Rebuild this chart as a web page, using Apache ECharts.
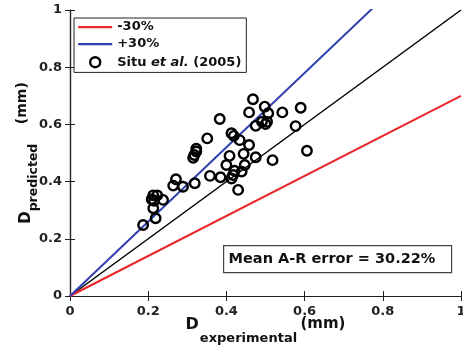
<!DOCTYPE html>
<html>
<head>
<meta charset="utf-8">
<script src="https://cdn.jsdelivr.net/npm/echarts@6/dist/echarts.min.js"></script>
<style>
  html, body { margin: 0; padding: 0; background: #fff; }
  #chart { width: 463px; height: 348px; }
</style>
</head>
<body>
<div id="chart"></div>
<script>
// measured points (Situ et al. 2005)
const expX = [0.468, 0.498, 0.458, 0.507, 0.543, 0.590, 0.383, 0.475, 0.491, 0.504,
  0.500, 0.577, 0.413, 0.419, 0.434, 0.458, 0.351, 0.323, 0.323, 0.318,
  0.315, 0.408, 0.444, 0.475, 0.518, 0.606, 0.400, 0.447, 0.421, 0.417,
  0.439, 0.358, 0.385, 0.413, 0.430, 0.319, 0.289, 0.271, 0.264, 0.238,
  0.213, 0.223, 0.209, 0.215, 0.213, 0.219, 0.187]
const predY = [0.688, 0.662, 0.642, 0.639, 0.642, 0.658, 0.619, 0.595, 0.609, 0.609,
  0.601, 0.594, 0.569, 0.560, 0.545, 0.528, 0.551, 0.515, 0.505, 0.493,
  0.483, 0.490, 0.497, 0.485, 0.475, 0.508, 0.458, 0.458, 0.438, 0.423,
  0.435, 0.420, 0.415, 0.411, 0.371, 0.394, 0.382, 0.408, 0.386, 0.336,
  0.352, 0.352, 0.338, 0.333, 0.307, 0.272, 0.248]

// reference lines y = k * x
const lineX = [0, 1]
const lowFactor = 0.7
const highFactor = 1.3
const legendNames = ['-30%', '+30%', 'Situ et al. (2005)']
const errorText = 'Mean A-R error = 30.22%'

const font = 'DejaVu Sans'
const chart = echarts.init(document.getElementById('chart'))

const makeLine = (k) => lineX.map(x => [x, k * x])
const points = expX.map((x, i) => [x, predY[i]])

// 标题样式 (subscript)
const xTitleRich = {
  d: { fontFamily: font, fontWeight: 'bold', fontSize: 16, color: '#111', lineHeight: 18, verticalAlign: 'top' },
  sub: { fontFamily: font, fontWeight: 'bold', fontSize: 13, color: '#111', lineHeight: 14, padding: [15, 0, 0, 1], verticalAlign: 'top' },
  u: { fontFamily: font, fontWeight: 'bold', fontSize: 15, color: '#111', lineHeight: 17, verticalAlign: 'top' }
}
const yTitleRich = {
  d: { fontFamily: font, fontWeight: 'bold', fontSize: 15, color: '#111', lineHeight: 18, padding: [4, 0, 0, 0], verticalAlign: 'top' },
  sub: { fontFamily: font, fontWeight: 'bold', fontSize: 12.5, color: '#111', lineHeight: 14, padding: [12, 0, 0, 0], verticalAlign: 'top' },
  u: { fontFamily: font, fontWeight: 'bold', fontSize: 14, color: '#111', lineHeight: 14, verticalAlign: 'top' }
}

const baseAxis = {
  type: 'value',
  min: 0,
  max: 1,
  interval: 0.2,
  axisLine: { show: true, lineStyle: { color: '#222', width: 1.2 } },
  axisTick: { show: true, inside: true, length: 5, lineStyle: { color: '#222', width: 1 } },
  splitLine: { show: false }
}
const axisLabel = { color: '#222', fontFamily: font, fontWeight: 'bold', fontSize: 13 }

const option = {
  animation: false,
  backgroundColor: '#fff',
  grid: { left: 70, right: 2, top: 10, bottom: 52, containLabel: false, outerBoundsMode: 'none' },
  xAxis: [
    Object.assign({}, baseAxis, {
      position: 'bottom',
      axisLabel: Object.assign({ margin: 9, formatter: v => String(v) }, axisLabel),
      name: '{d|D}{sub|experimental} {u|(mm)}',
      nameLocation: 'middle',
      nameGap: 21,
      nameMoveOverlap: false,
      nameTextStyle: { rich: xTitleRich }
    }),
    Object.assign({}, baseAxis, { position: 'top', axisLabel: { show: false } })
  ],
  yAxis: [
    Object.assign({}, baseAxis, {
      position: 'left',
      axisLabel: Object.assign({ margin: 8, formatter: v => String(v) }, axisLabel),
      name: '{d|D}{sub|predicted}{u|    (mm)}',
      nameLocation: 'middle',
      nameRotate: 90,
      nameGap: 37,
      nameMoveOverlap: false,
      nameTextStyle: { rich: yTitleRich }
    }),
    Object.assign({}, baseAxis, { position: 'right', axisLabel: { show: false } })
  ],
  legend: {
    data: [
      { name: legendNames[0], icon: 'path://M0,0 M34,14 M0,6 L34,6 L34,8.2 L0,8.2 Z' },
      { name: legendNames[1], icon: 'path://M0,0 M34,14 M0,6 L34,6 L34,8.2 L0,8.2 Z' },
      {
        name: legendNames[2],
        icon: 'path://M0,0 M34,14 M12,7 A5,5 0 1,0 22,7 A5,5 0 1,0 12,7 Z',
        itemStyle: { color: 'rgba(0,0,0,0)', borderColor: '#000', borderWidth: 2.4, opacity: 1 }
      }
    ],
    orient: 'vertical',
    left: 74,
    top: 18,
    itemWidth: 34,
    itemHeight: 14,
    itemGap: 3,
    padding: [2, 5, 2, 3],
    borderColor: '#222',
    borderWidth: 1,
    backgroundColor: '#fff',
    selectedMode: false,
    textStyle: {
      fontFamily: font, fontWeight: 'bold', fontSize: 13, color: '#111',
      rich: {
        n: { fontFamily: font, fontWeight: 'bold', fontSize: 13, color: '#111' },
        i: { fontFamily: font, fontWeight: 'bold', fontStyle: 'italic', fontSize: 13, color: '#111' }
      }
    },
    formatter: name => name === legendNames[2] ? '{n|Situ }{i|et al.}{n| (2005)}' : name
  },
  graphic: [
    {
      type: 'group',
      left: 223,
      top: 245,
      children: [
        { type: 'rect', shape: { x: 0, y: 0, width: 228, height: 27 }, style: { fill: '#fff', stroke: '#444', lineWidth: 1.2 } },
        { type: 'text', x: 5, y: 14, style: { text: errorText, font: 'bold 14.5px "DejaVu Sans"', fill: '#111', verticalAlign: 'middle' } }
      ]
    }
  ],
  series: [
    {
      name: 'y = x',
      type: 'line',
      data: makeLine(1),
      symbol: 'none',
      lineStyle: { color: '#000', width: 1.5 },
      z: 2
    },
    {
      name: legendNames[0],
      type: 'line',
      data: makeLine(lowFactor),
      symbol: 'none',
      color: '#e8262a',
      lineStyle: { color: '#e8262a', width: 2 },
      z: 2
    },
    {
      name: legendNames[1],
      type: 'line',
      data: makeLine(highFactor),
      symbol: 'none',
      color: '#2f3fb0',
      lineStyle: { color: '#2f3fb0', width: 2 },
      clip: true,
      z: 2
    },
    {
      name: legendNames[2],
      type: 'scatter',
      data: points,
      symbol: 'circle',
      symbolSize: 9.5,
      itemStyle: { color: 'rgba(0,0,0,0)', borderColor: '#000', borderWidth: 2.4, opacity: 1 },
      z: 3
    }
  ]
}

chart.setOption(option)
</script>
</body>
</html>
